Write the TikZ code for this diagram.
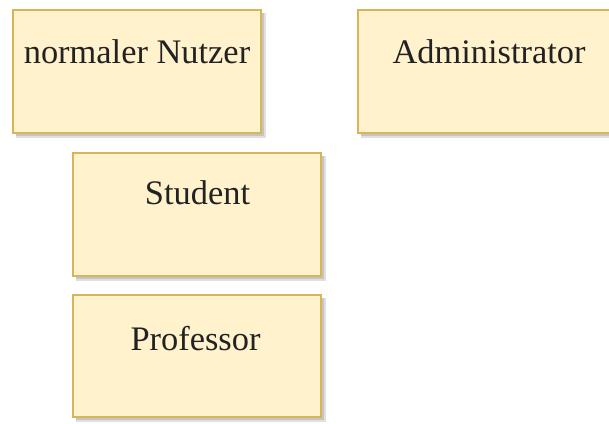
\documentclass[tikz,border=0pt]{standalone}
\usepackage{fontspec}
\setmainfont{Liberation Serif}
\begin{document}
\begin{tikzpicture}[x=1pt,y=-1pt,
  rolebox/.style={fill={rgb,255:red,255;green,242;blue,204},
                  draw={rgb,255:red,214;green,182;blue,86}, line width=2.5pt},
  roleshadow/.style={fill=black, opacity=0.12},
  roletext/.style={anchor=base, inner sep=0pt, font=\fontsize{34.4}{40}\selectfont, text={rgb,255:red,34;green,34;blue,34}}]
  \useasboundingbox (0,0) rectangle (609,423);
  \clip (0,0) rectangle (609,423);
  % soft drop shadows, two layers each
  \foreach \xa/\ya/\xb/\yb in {13/10/261/133, 358/10/621/133, 73/153/321/276, 73/295/321/417} {
    \fill[roleshadow] (\xa+3,\ya+3) rectangle (\xb+4.5,\yb+4.5);
    \fill[roleshadow] (\xa+3,\ya+3) rectangle (\xb+3,\yb+3);
  }
  % boxes
  \draw[rolebox] (13,10) rectangle (261,133);
  \draw[rolebox] (358,10) rectangle (621,133);
  \draw[rolebox] (73,153) rectangle (321,276);
  \draw[rolebox] (73,295) rectangle (321,417);
  % labels
  \node[roletext] (nutzer) at (137,63) {normaler Nutzer};
  \node[roletext] (admin) at (489,63) {Administrator};
  \node[roletext] (student) at (197.5,204) {Student};
  \node[roletext] (prof) at (195.5,350) {Professor};
\end{tikzpicture}
\end{document}
